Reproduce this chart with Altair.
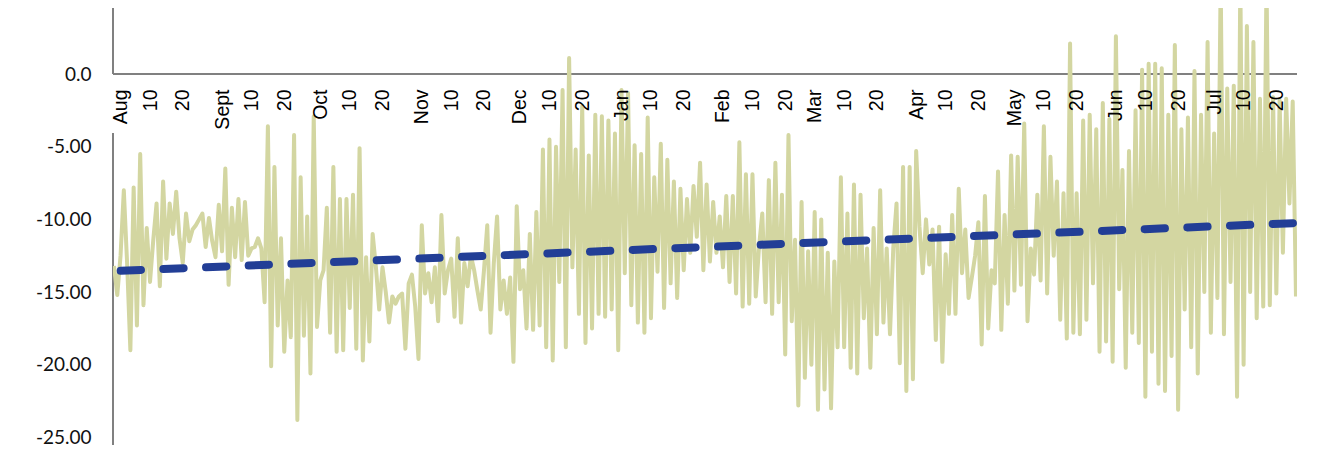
import altair as alt
import numpy as np
import pandas as pd

# ---- data ----
start_date = "2022-07-30"
series_values = [
    -13.2, -15.2, -12.5, -8.0, -13.0, -19.0, -7.8, -17.3, -5.5, -15.9,
    -10.6, -14.3, -11.4, -8.9, -14.6, -7.4, -12.7, -8.9, -11.0, -8.1,
    -11.3, -13.0, -9.6, -11.5, -10.7, -10.4, -10.0, -9.6, -11.9, -9.9,
    -11.5, -12.6, -9.0, -12.2, -6.5, -14.5, -9.2, -12.6, -8.6, -12.8,
    -8.8, -12.5, -12.0, -11.9, -11.3, -12.0, -15.7, -3.6, -20.1, -6.4,
    -17.3, -11.3, -19.1, -14.2, -18.1, -4.2, -23.8, -7.1, -18.0, -9.8,
    -20.6, -2.9, -17.4, -14.2, -13.5, -9.2, -17.8, -6.4, -19.1, -8.6,
    -19.0, -8.6, -16.1, -8.3, -18.9, -5.1, -19.7, -12.6, -18.4, -11.0,
    -13.3, -16.2, -13.3, -15.0, -17.1, -15.3, -15.8, -15.3, -15.1, -18.9,
    -14.4, -13.8, -16.0, -19.6, -10.4, -15.1, -13.7, -15.7, -13.3, -17.0,
    -9.7, -15.1, -13.5, -12.7, -16.7, -11.3, -17.1, -13.0, -14.6, -12.5,
    -13.5, -14.9, -16.2, -13.5, -10.4, -17.8, -13.0, -9.8, -16.2, -14.2,
    -16.5, -14.0, -19.8, -9.1, -14.8, -13.5, -17.5, -11.0, -17.6, -9.5,
    -17.3, -5.2, -18.8, -4.5, -19.7, -5.0, -14.3, -1.1, -18.8, 1.1,
    -13.3, -5.2, -16.5, -2.2, -18.5, -5.6, -17.5, -2.8, -16.5, -2.9,
    -16.7, -3.2, -16.2, -4.1, -19.0, -1.1, -13.7, -1.3, -15.9, -4.9,
    -17.1, -5.5, -17.8, -3.0, -16.8, -7.1, -13.6, -4.8, -16.1, -5.9,
    -14.4, -7.4, -15.4, -7.9, -13.5, -8.6, -12.3, -7.7, -11.2, -6.1,
    -13.5, -7.6, -12.9, -8.8, -12.3, -9.8, -13.3, -8.4, -14.3, -8.4,
    -15.1, -4.7, -16.0, -6.9, -15.8, -6.9, -15.3, -11.9, -9.6, -15.7,
    -7.3, -16.5, -6.1, -15.7, -8.3, -19.3, -4.2, -17.0, -11.4, -22.8,
    -8.8, -20.9, -12.2, -20.0, -9.5, -23.1, -10.0, -21.7, -12.3, -23.0,
    -12.9, -18.8, -7.1, -18.8, -9.6, -20.2, -7.6, -20.6, -8.3, -16.8,
    -12.0, -20.2, -10.6, -17.9, -8.0, -17.1, -12.0, -17.9, -12.0, -8.9,
    -19.9, -6.4, -21.8, -6.4, -21.0, -5.3, -10.5, -13.7, -10.0, -13.1,
    -10.7, -18.3, -10.5, -19.8, -12.4, -16.5, -9.7, -16.5, -7.9, -13.7,
    -10.7, -15.4, -14.0, -12.5, -10.2, -18.6, -8.4, -17.5, -13.5, -14.4,
    -6.7, -17.6, -9.7, -15.8, -5.6, -14.9, -5.7, -14.5, -3.4, -17.0,
    -12.0, -13.8, -8.3, -14.2, -3.6, -15.1, -5.7, -12.5, -7.4, -16.9,
    -8.2, -18.2, 2.1, -17.8, -8.2, -17.9, -3.2, -16.9, -2.8, -14.4,
    -3.8, -19.1, -2.0, -18.4, -3.1, -19.8, 2.6, -14.8, -6.6, -20.2,
    -5.3, -17.8, -2.5, -18.5, 0.3, -22.2, 0.7, -19.1, 0.7, -21.3,
    0.4, -21.8, -2.8, -19.4, 2.0, -23.1, -3.8, -16.2, -3.0, -18.8,
    0.2, -20.6, -2.8, -15.0, 2.2, -17.8, -4.1, -15.4, 6.5, -17.9,
    -1.0, -14.3, -0.8, -22.2, 6.5, -20.0, 3.3, -15.0, 2.2, -16.8,
    -1.7, -16.0, 6.5, -15.9, -1.6, -15.1, -1.8, -12.3, -1.7, -8.9,
    -1.9, -15.3,
]
trend_values = [-13.55, -10.25]

month_names = ["Aug", "Sept", "Oct", "Nov", "Dec", "Jan",
               "Feb", "Mar", "Apr", "May", "Jun", "Jul"]
day_labels = ["10", "20"]
y_tick_values = [5, 0, -5, -10, -15, -20, -25]
y_tick_labels = ["5.00", "0.0", "-5.00", "-10.00", "-15.00", "-20.00", "-25.00"]

# ---- derived tables ----
start = pd.Timestamp(start_date)
n = len(series_values)
df = pd.DataFrame({"day": np.arange(n), "value": series_values})

tick_days, tick_labels = [], []
for i, ms in enumerate(pd.date_range("2022-08-01", "2023-07-01", freq="MS")):
    tick_days.append(int((ms - start).days))
    tick_labels.append(month_names[i])
    for lab in day_labels:
        t = ms + pd.Timedelta(days=int(lab) - 1)
        tick_days.append(int((t - start).days))
        tick_labels.append(lab)

trend_df = pd.DataFrame({"day": [0, n - 1], "value": trend_values})

x_min, x_max = -0.305, n - 1 + 0.31
y_min, y_max = -25.52, 4.54
plot_w, plot_h = 1184, 437
zero_px = plot_h * (y_max - 0.0) / (y_max - y_min)   # pixel row of value 0

x_label_expr = "[" + ",".join(f"'{l}'" for l in tick_labels) + "][indexof([" + \
    ",".join(str(d) for d in tick_days) + "], datum.value)]"
y_label_expr = "[" + ",".join(f"'{l}'" for l in y_tick_labels) + "][indexof([" + \
    ",".join(str(v) for v in y_tick_values) + "], datum.value)]"

x_scale = alt.Scale(domain=[x_min, x_max], nice=False, zero=False)
y_scale = alt.Scale(domain=[y_min, y_max], nice=False, zero=False)

x_axis = alt.Axis(values=tick_days, labelExpr=x_label_expr,
                  orient="bottom", offset=-(plot_h - zero_px), domain=False,
                  ticks=False, tickSize=0, grid=False,
                  labelAngle=270, labelAlign="right", labelBaseline="middle",
                  labelPadding=15, labelFont="Liberation Sans",
                  labelFontSize=19.5, labelColor="#000000",
                  labelOverlap=False, labelFlush=False, zindex=1)
y_axis = alt.Axis(values=y_tick_values, labelExpr=y_label_expr,
                  domain=False, ticks=False, tickSize=0, grid=False,
                  labelPadding=22, labelFont="Lato", labelFontSize=19,
                  labelColor="#111111", labelOverlap=False, labelFlush=False)

axis_color = "#808080"

xaxis_df = pd.DataFrame({"day": [x_min], "day2": [x_max], "value": [0.0]})
yaxis_df = pd.DataFrame({"day": [x_min, x_min], "value": [y_max, -4.06],
                         "value2": [0.0, y_min]})

line = alt.Chart(df).mark_line(color="#D3D6A1", strokeWidth=4, clip=True,
                               strokeJoin="round").encode(
    x=alt.X("day:Q", scale=x_scale, title=None, axis=x_axis),
    y=alt.Y("value:Q", scale=y_scale, title=None, axis=y_axis),
)

x_axis_rule = alt.Chart(xaxis_df).mark_rule(color=axis_color, strokeWidth=2).encode(
    x=alt.X("day:Q", scale=x_scale, title=None, axis=x_axis),
    x2="day2:Q",
    y=alt.Y("value:Q", scale=y_scale, title=None, axis=y_axis),
)
y_axis_rule = alt.Chart(yaxis_df).mark_rule(color=axis_color, strokeWidth=2).encode(
    x=alt.X("day:Q", scale=x_scale, title=None, axis=x_axis),
    y=alt.Y("value:Q", scale=y_scale, title=None, axis=y_axis),
    y2="value2:Q",
)

trend = alt.Chart(trend_df).mark_line(color="#223E96", strokeWidth=8,
                                      strokeDash=[20.3, 22.4], strokeDashOffset=36,
                                      strokeCap="round").encode(
    x=alt.X("day:Q", scale=x_scale, title=None, axis=x_axis),
    y=alt.Y("value:Q", scale=y_scale, title=None, axis=y_axis),
)

chart = alt.layer(x_axis_rule, y_axis_rule, line, trend).properties(
    width=plot_w,
    height=plot_h,
    padding={"left": 105, "top": 0, "right": 14, "bottom": 4},
    autosize=alt.AutoSizeParams(type="none"),
    background="white",
).configure_view(strokeWidth=0, stroke="transparent")

chart.save("out.html", embed_options={"renderer": "svg", "actions": False})
